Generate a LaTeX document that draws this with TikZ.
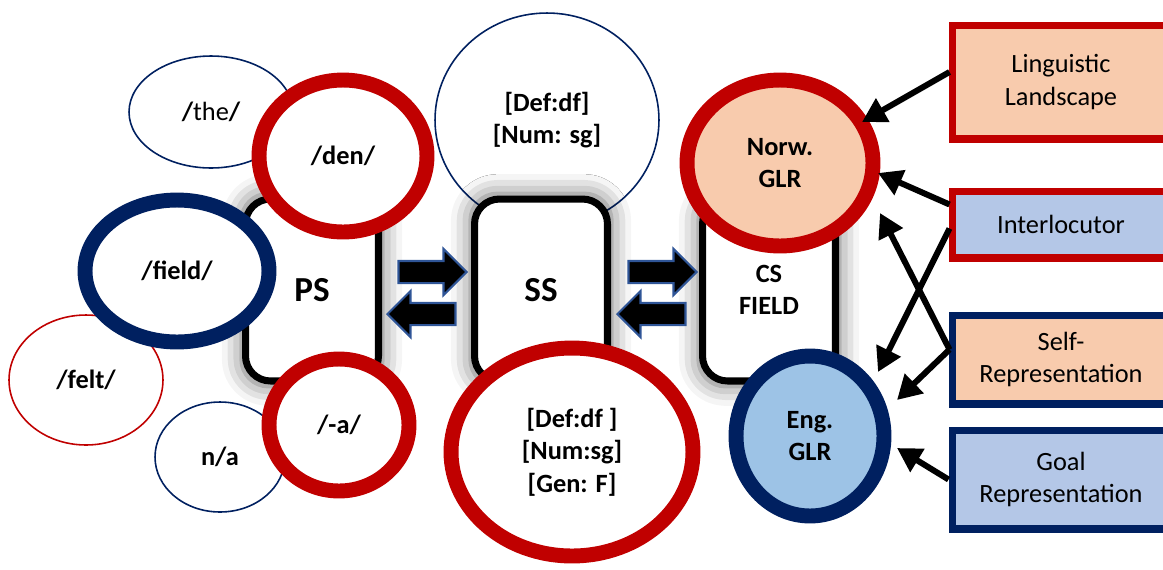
\documentclass[tikz,border=0pt]{standalone}
\usepackage{fontspec}
\setmainfont{Carlito}
\usetikzlibrary{arrows.meta, shapes.geometric, shapes.arrows, calc, shadows.blur}

\definecolor{glrred}{HTML}{C00000}
\definecolor{glrnavy}{HTML}{002060}
\definecolor{peach}{HTML}{F8CBAD}
\definecolor{paleblue}{HTML}{B4C7E7}
\definecolor{engblue}{HTML}{9DC3E6}
\definecolor{arrowrim}{HTML}{2F5597}

\tikzset{
  txt/.style={font=\fontsize{15}{18.5}\selectfont\bfseries, align=center},
  bigtxt/.style={font=\fontsize{20}{24}\selectfont\bfseries, align=center},
  thickring/.style={txt, ellipse, line width=8.5pt, fill=white, inner sep=0pt},
  thinring/.style={txt, ellipse, line width=0.9pt, fill=white, inner sep=0pt},
  level/.style={draw=black, line width=4pt, rounded corners=0.5cm, fill=white,
    minimum width=2.66cm, minimum height=3.64cm,
    blur shadow={shadow xshift=0pt, shadow yshift=0pt, shadow scale=1.05,
      shadow blur radius=11pt, shadow opacity=60}},
  source/.style={font=\fontsize{15}{18.5}\selectfont, align=center, line width=4pt, minimum width=4.36cm},
  blockarrow/.style={single arrow, draw=arrowrim, line width=1.2pt, fill=black,
    inner xsep=0pt, inner ysep=0.2cm, text height=0pt, text depth=0pt,
    minimum height=1.36cm, single arrow head extend=0.24cm},
  feed/.style={line width=3.4pt, -{Triangle[length=0.48cm, width=0.52cm]}}
}

\begin{document}
\begin{tikzpicture}[x=0.02cm, y=-0.02cm]
    \useasboundingbox (0,0) rectangle (1163,569);
    \clip (0,0) rectangle (1163,569);

    % thin feature ellipses
    \node[thinring, draw=glrnavy, minimum width=3.28cm, minimum height=2.24cm] (the) at (211,112) {/{\mdseries the}/};
    \node[thinring, draw=glrred, minimum width=3.08cm, minimum height=2.6cm] (felt) at (86,380) {/felt/};
    \node[thinring, draw=glrnavy, minimum width=2.6cm, minimum height=2.2cm] (na) at (220,457) {n/a};
    \node[thinring, draw=glrnavy, minimum width=4.48cm, minimum height=4.28cm] (synA) at (547,120) {{[Def:df]}\\{[Num: sg]}};

    % the three levels
    \node[level, bigtxt] (ps) at (312,290) {PS};
    \node[level, bigtxt] (ss) at (541,290) {SS};
    \node[level, txt] (cs) at (769,290) {CS\\FIELD};

    % thick rings
    \node[thickring, draw=glrred, minimum width=3.36cm, minimum height=3.04cm] (den) at (343,156) {/den/};
    \node[thickring, draw=glrnavy, minimum width=3.68cm, minimum height=2.84cm] (field) at (177,271) {/field/};
    \node[thickring, draw=glrred, minimum width=2.8cm, minimum height=2.64cm] (suffix) at (339,425) {/-a/};
    \node[thickring, draw=glrred, minimum width=4.84cm, minimum height=4.16cm] (synB) at (572,452) {{[Def:df ]}\\{[Num:sg]}\\{[Gen: F]}};
    \node[thickring, draw=glrred, fill=peach, minimum width=3.72cm, minimum height=3.32cm] (norw) at (780,163) {Norw.\\GLR};
    \node[thickring, draw=glrnavy, fill=engblue, minimum width=2.96cm, minimum height=3.2cm] (eng) at (810,436) {Eng.\\GLR};

    % block arrows between levels
    \node[blockarrow] (psToSS) at (427,272) {};
    \node[blockarrow, shape border rotate=180] (ssToPS) at (427,314) {};
    \node[blockarrow] (ssToCS) at (657,272) {};
    \node[blockarrow, shape border rotate=180] (csToSS) at (657,314) {};

    % sources
    \node[source, draw=glrred, fill=peach, minimum height=2.28cm] (ll) at (1061,82) {Linguistic\\Landscape};
    \node[source, draw=glrred, fill=paleblue, minimum height=1.34cm] (inter) at (1061,224.5) {Interlocutor};
    \node[source, draw=glrnavy, fill=peach, minimum height=1.78cm] (self) at (1061,359.5) {Self-\\Representation};
    \node[source, draw=glrnavy, fill=paleblue, minimum height=1.98cm] (goal) at (1061,479.5) {Goal\\Representation};

    \coordinate (tLL) at ($(norw)+(82,-41)$);
    \coordinate (tIN) at ($(norw)+(98,10)$);
    \coordinate (tSN) at ($(norw)+(100,50)$);
    \coordinate (tIE) at ($(eng)+(68,-64)$);
    \coordinate (tSE) at ($(eng)+(87,-36)$);
    \coordinate (tGE) at ($(eng)+(87,12)$);

    \draw[feed] ($(ll.west)+(1,-10)$) -- (tLL);
    \draw[feed] ($(inter.west)+(1,-20)$) -- (tIN);
    \draw[feed] ($(inter.west)+(1,4)$) -- (tIE);
    \draw[feed] ($(self.west)+(1,-10)$) -- (tSN);
    \draw[feed] ($(self.west)+(1,-10)$) -- (tSE);
    \draw[feed] (goal.west) -- (tGE);
\end{tikzpicture}
\end{document}
